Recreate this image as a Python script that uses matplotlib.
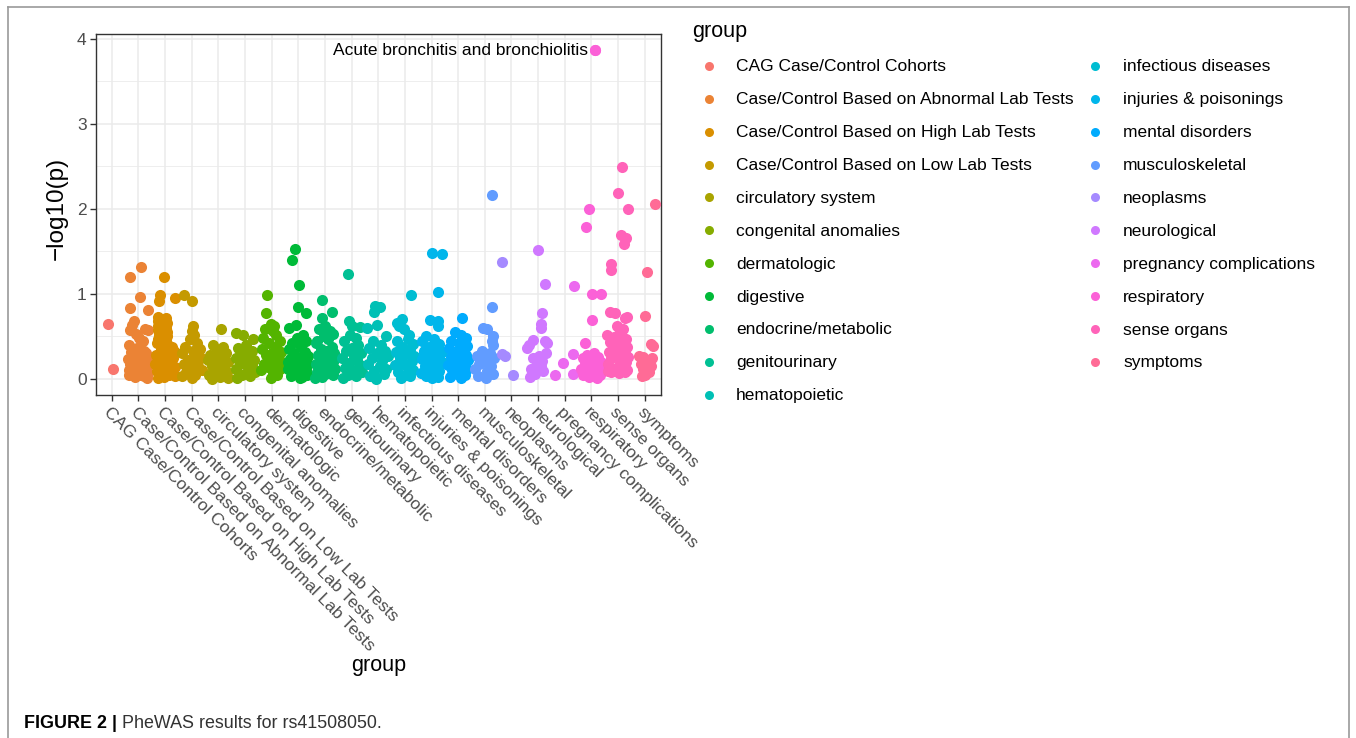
import math
import numpy as np
import matplotlib
matplotlib.use("Agg")
import matplotlib.pyplot as plt
from matplotlib.lines import Line2D

plt.rcParams['font.family'] = ['Liberation Sans', 'DejaVu Sans']

# phenotype groups (x categories / legend order)
groups = ["CAG Case/Control Cohorts", "Case/Control Based on Abnormal Lab Tests",
          "Case/Control Based on High Lab Tests", "Case/Control Based on Low Lab Tests",
          "circulatory system", "congenital anomalies", "dermatologic", "digestive",
          "endocrine/metabolic", "genitourinary", "hematopoietic", "infectious diseases",
          "injuries & poisonings", "mental disorders", "musculoskeletal", "neoplasms",
          "neurological", "pregnancy complications", "respiratory", "sense organs", "symptoms"]

# -log10(p) per group, with the horizontal jitter
y_cag = [0.65, 0.12]
jit_cag = [-0.15, 0.06]
y_abn = [1.31, 1.20, 0.96, 0.83, 0.81, 0.68, 0.63, 0.57, 0.58, 0.57, 0.53, 0.48, 0.45, 0.40,
         0.36, 0.33, 0.31, 0.30, 0.28, 0.26, 0.25, 0.23, 0.21, 0.20, 0.19, 0.17, 0.15, 0.14,
         0.12, 0.11, 0.10, 0.09, 0.08, 0.07, 0.06, 0.05, 0.04, 0.03, 0.02, 0.01]
jit_abn = [0.10, -0.33, 0.06, -0.33, 0.37, -0.18, -0.25, -0.30, 0.26, 0.38, -0.10, 0.04, 0.16,
           -0.35, -0.05, 0.20, -0.28, 0.30, 0.05, -0.15, 0.35, -0.38, 0.12, -0.05, 0.25, -0.30,
           0.02, 0.33, -0.20, 0.15, -0.36, 0.28, -0.08, 0.38, -0.25, 0.10, -0.35, 0.22, -0.12, 0.32]
y_high = [1.20, 0.99, 0.95, 0.92, 0.73, 0.72, 0.68, 0.66, 0.62, 0.60, 0.57, 0.55, 0.52, 0.50,
          0.47, 0.45, 0.42, 0.40, 0.37, 0.35, 0.33, 0.30, 0.28, 0.26, 0.24, 0.22, 0.20, 0.18,
          0.16, 0.14, 0.12, 0.10, 0.09, 0.07, 0.06, 0.04, 0.03, 0.02, 0.01]
jit_high = [-0.05, -0.19, 0.38, -0.24, -0.28, 0.04, -0.26, 0.06, -0.27, 0.05, -0.25, 0.08, -0.24,
            0.06, -0.26, 0.05, -0.30, 0.10, 0.25, -0.15, 0.35, 0.00, -0.35, 0.18, 0.30, -0.20,
            0.12, -0.38, 0.22, 0.36, -0.10, 0.05, -0.30, 0.28, -0.18, 0.15, 0.38, -0.05, -0.28]
y_low = [0.98, 0.91, 0.62, 0.56, 0.52, 0.47, 0.42, 0.38, 0.35, 0.33, 0.30, 0.27, 0.25, 0.22,
         0.20, 0.17, 0.15, 0.12, 0.10, 0.08, 0.05, 0.03, 0.01, 0.30, 0.18]
jit_low = [-0.30, 0.00, 0.04, 0.00, 0.10, -0.05, 0.20, -0.25, 0.30, 0.05, -0.35, 0.15, 0.35,
           -0.15, 0.05, -0.30, 0.25, -0.05, 0.38, -0.22, 0.12, -0.35, 0.02, 0.22, -0.10]
y_circ = [0.59, 0.40, 0.37, 0.33, 0.30, 0.28, 0.25, 0.23, 0.20, 0.18, 0.15, 0.13, 0.10, 0.08,
          0.05, 0.02, 0.00, 0.01, 0.22, 0.12]
jit_circ = [0.11, -0.19, 0.18, -0.05, 0.30, -0.30, 0.10, -0.15, 0.35, 0.00, -0.25, 0.22, -0.08,
            0.32, -0.35, 0.05, -0.22, 0.38, -0.38, 0.15]
y_cong = [0.54, 0.52, 0.47, 0.40, 0.36, 0.33, 0.30, 0.28, 0.25, 0.22, 0.20, 0.17, 0.15, 0.12,
          0.10, 0.08, 0.05, 0.03, 0.01, 0.27]
jit_cong = [-0.35, -0.06, 0.31, 0.05, -0.25, 0.28, -0.10, 0.15, -0.35, 0.35, 0.02, -0.20, 0.25,
            -0.32, 0.10, 0.38, -0.12, 0.20, -0.28, 0.00]
y_derm = [0.98, 0.77, 0.64, 0.62, 0.58, 0.56, 0.52, 0.48, 0.45, 0.42, 0.38, 0.35, 0.32, 0.30,
          0.28, 0.25, 0.22, 0.20, 0.18, 0.16, 0.14, 0.12, 0.10, 0.07, 0.04, 0.01]
jit_derm = [-0.19, -0.22, -0.03, 0.10, -0.25, 0.05, 0.18, -0.32, 0.30, -0.10, 0.15, -0.35, 0.35,
            0.00, -0.20, 0.25, -0.05, 0.38, -0.30, 0.12, -0.15, 0.30, -0.38, 0.05, 0.22, -0.02]
y_dig = [1.53, 1.40, 1.10, 0.84, 0.77, 0.63, 0.60, 0.51, 0.48, 0.45, 0.42, 0.38, 0.35, 0.32,
         0.30, 0.27, 0.25, 0.23, 0.21, 0.19, 0.17, 0.15, 0.13, 0.12, 0.10, 0.08, 0.07, 0.05,
         0.03, 0.02, 0.01, 0.20]
jit_dig = [-0.11, -0.23, 0.03, 0.00, 0.29, -0.10, -0.36, 0.16, -0.05, 0.30, -0.25, 0.10, -0.35,
           0.25, -0.15, 0.35, 0.05, -0.30, 0.20, -0.05, 0.38, -0.22, 0.12, -0.38, 0.28, 0.00,
           -0.15, 0.32, -0.28, 0.15, 0.05, -0.38]
y_endo = [0.93, 0.79, 0.72, 0.62, 0.58, 0.56, 0.53, 0.50, 0.47, 0.44, 0.42, 0.38, 0.35, 0.33,
          0.30, 0.28, 0.25, 0.22, 0.20, 0.18, 0.16, 0.14, 0.12, 0.10, 0.08, 0.06, 0.04, 0.02,
          0.01, 0.27]
jit_endo = [-0.12, 0.28, -0.12, 0.00, -0.22, 0.18, 0.30, -0.05, 0.12, -0.30, -0.34, 0.25, -0.15,
            0.05, 0.35, -0.25, 0.15, -0.05, 0.30, -0.35, 0.08, -0.18, 0.38, 0.20, -0.28, 0.00,
            0.32, -0.10, -0.38, 0.38]
y_geni = [1.23, 0.68, 0.62, 0.61, 0.51, 0.48, 0.44, 0.40, 0.36, 0.33, 0.30, 0.27, 0.24, 0.22,
          0.19, 0.16, 0.13, 0.10, 0.08, 0.05, 0.03, 0.01]
jit_geni = [-0.13, -0.11, 0.01, 0.31, -0.05, 0.15, -0.30, 0.25, 0.00, -0.20, 0.35, 0.10, -0.35,
            0.20, -0.10, 0.30, -0.25, 0.05, 0.38, -0.15, 0.18, -0.32]
y_hema = [0.86, 0.85, 0.78, 0.63, 0.60, 0.50, 0.45, 0.40, 0.36, 0.33, 0.30, 0.27, 0.24, 0.21,
          0.18, 0.15, 0.12, 0.09, 0.06, 0.03, 0.00]
jit_hema = [-0.11, 0.05, -0.15, -0.05, -0.41, 0.30, -0.20, 0.10, -0.35, 0.25, -0.05, 0.38, -0.25,
            0.15, -0.38, 0.05, 0.30, -0.15, 0.20, -0.30, -0.10]
y_infe = [0.98, 0.70, 0.66, 0.62, 0.58, 0.52, 0.47, 0.44, 0.41, 0.38, 0.35, 0.32, 0.29, 0.27,
          0.24, 0.21, 0.18, 0.16, 0.13, 0.10, 0.08, 0.05, 0.03, 0.01]
jit_infe = [0.24, -0.10, -0.30, -0.22, -0.05, 0.15, 0.10, -0.30, 0.30, -0.12, 0.20, -0.35, 0.05,
            0.35, -0.20, 0.25, -0.05, -0.38, 0.12, 0.32, -0.25, 0.00, 0.20, -0.15]
y_inj = [1.48, 1.47, 1.02, 0.69, 0.68, 0.62, 0.50, 0.47, 0.44, 0.41, 0.38, 0.36, 0.33, 0.31,
         0.29, 0.27, 0.25, 0.23, 0.21, 0.19, 0.17, 0.15, 0.13, 0.11, 0.09, 0.07, 0.05, 0.03,
         0.02, 0.01, 0.30, 0.20]
jit_inj = [0.00, 0.38, 0.25, -0.05, 0.25, 0.25, -0.20, 0.10, -0.35, 0.30, -0.08, 0.20, -0.28,
           0.38, 0.05, -0.15, 0.28, -0.35, 0.12, -0.02, 0.35, -0.25, 0.18, -0.10, 0.30, -0.38,
           0.08, -0.20, 0.25, 0.00, -0.30, 0.38]
y_ment = [0.72, 0.55, 0.52, 0.48, 0.45, 0.42, 0.39, 0.36, 0.33, 0.31, 0.28, 0.26, 0.24, 0.22,
          0.20, 0.18, 0.16, 0.14, 0.12, 0.10, 0.08, 0.06, 0.04, 0.02, 0.01, 0.30]
jit_ment = [0.14, -0.10, 0.12, 0.30, -0.25, 0.05, 0.35, -0.35, 0.18, -0.10, 0.28, -0.28, 0.05,
            0.38, -0.18, 0.22, -0.38, 0.00, 0.32, -0.22, 0.12, -0.05, 0.25, -0.30, 0.10, -0.02]
y_musc = [2.16, 0.84, 0.60, 0.59, 0.50, 0.44, 0.40, 0.33, 0.30, 0.27, 0.24, 0.21, 0.18, 0.15,
          0.12, 0.09, 0.06, 0.03, 0.01, 0.25]
jit_musc = [0.26, 0.28, -0.05, 0.08, 0.31, 0.28, 0.30, -0.10, 0.20, -0.30, 0.35, 0.00, -0.20,
            0.25, -0.35, 0.10, 0.30, -0.25, 0.05, -0.02]
y_neop = [1.37, 0.29, 0.27, 0.05]
jit_neop = [-0.37, -0.36, -0.25, 0.06]
y_neur = [1.51, 1.11, 0.77, 0.65, 0.60, 0.46, 0.44, 0.42, 0.40, 0.36, 0.30, 0.27, 0.24, 0.21,
          0.18, 0.15, 0.12, 0.09, 0.06, 0.02]
jit_neur = [0.00, 0.24, 0.16, 0.10, 0.12, -0.21, 0.25, 0.35, -0.35, -0.40, 0.28, 0.05, -0.18,
            0.15, -0.05, 0.10, -0.25, 0.20, -0.12, -0.30]
y_preg = [1.09, 0.29, 0.19, 0.06, 0.04]
jit_preg = [0.33, 0.32, -0.06, 0.30, -0.36]
y_resp = [3.86, 2.00, 1.79, 1.00, 1.00, 0.69, 0.42, 0.30, 0.28, 0.26, 0.24, 0.22, 0.20, 0.18,
          0.17, 0.15, 0.14, 0.12, 0.11, 0.10, 0.09, 0.08, 0.07, 0.06, 0.05, 0.04, 0.03, 0.02,
          0.01, 0.12, 0.20, 0.25]
jit_resp = [0.15, -0.10, -0.21, 0.02, 0.37, 0.03, -0.24, 0.10, -0.15, 0.25, -0.30, 0.05, 0.35,
            -0.05, -0.25, 0.20, 0.38, -0.12, 0.12, -0.35, 0.28, 0.00, -0.20, 0.15, 0.32, -0.30,
            0.08, -0.10, 0.22, -0.38, 0.30, -0.02]
y_sens = [2.49, 2.18, 2.00, 1.69, 1.66, 1.59, 1.35, 1.28, 0.78, 0.77, 0.73, 0.72, 0.62, 0.58,
          0.53, 0.51, 0.49, 0.47, 0.45, 0.43, 0.40, 0.38, 0.36, 0.34, 0.32, 0.30, 0.28, 0.26,
          0.24, 0.22, 0.20, 0.18, 0.16, 0.14, 0.12, 0.10, 0.08, 0.07, 0.08, 0.09]
jit_sens = [0.13, -0.02, 0.39, 0.10, 0.29, 0.24, -0.25, -0.25, -0.31, -0.12, 0.32, 0.27, -0.05,
            0.20, 0.05, -0.41, -0.15, 0.30, 0.10, -0.30, 0.00, 0.35, -0.20, 0.15, -0.35, 0.25,
            -0.08, 0.38, -0.25, 0.12, 0.30, -0.38, 0.02, 0.22, -0.15, 0.35, -0.28, 0.05, 0.25, -0.38]
y_symp = [2.05, 1.25, 0.74, 0.41, 0.39, 0.27, 0.26, 0.24, 0.21, 0.18, 0.15, 0.12, 0.08, 0.05, 0.03]
jit_symp = [0.37, 0.09, 0.00, 0.25, 0.32, -0.21, -0.05, 0.28, 0.10, -0.15, 0.22, -0.05, 0.15,
            0.00, -0.10]

group_y = [y_cag, y_abn, y_high, y_low, y_circ, y_cong, y_derm, y_dig, y_endo, y_geni, y_hema,
           y_infe, y_inj, y_ment, y_musc, y_neop, y_neur, y_preg, y_resp, y_sens, y_symp]
group_jit = [jit_cag, jit_abn, jit_high, jit_low, jit_circ, jit_cong, jit_derm, jit_dig, jit_endo,
             jit_geni, jit_hema, jit_infe, jit_inj, jit_ment, jit_musc, jit_neop, jit_neur,
             jit_preg, jit_resp, jit_sens, jit_symp]

# labelled top hit (respiratory)
top_label = "Acute bronchitis and bronchiolitis"
top_group = "respiratory"
top_jit = 0.15
top_y = 3.86


def hcl_color(h, c=100.0, l=65.0):
    # ggplot2 default hue palette (polar LUV -> sRGB)
    xn, yn, zn = 95.047, 100.0, 108.883
    u = c * math.cos(math.radians(h))
    v = c * math.sin(math.radians(h))
    Y = yn * ((l + 16) / 116) ** 3
    un = 4 * xn / (xn + 15 * yn + 3 * zn)
    vn = 9 * yn / (xn + 15 * yn + 3 * zn)
    up = u / (13 * l) + un
    vp = v / (13 * l) + vn
    X = 9 * Y * up / (4 * vp)
    Z = 3 * Y / vp - X / 3 - 5 * Y
    X, Y, Z = X / 100, Y / 100, Z / 100
    rgb = [3.240479 * X - 1.537150 * Y - 0.498535 * Z,
           -0.969256 * X + 1.875992 * Y + 0.041556 * Z,
           0.055648 * X - 0.204043 * Y + 1.057311 * Z]
    out = []
    for ch in rgb:
        ch = 12.92 * ch if ch <= 0.0031308 else 1.055 * ch ** (1 / 2.4) - 0.055
        out.append(min(max(ch, 0.0), 1.0))
    return tuple(out)


hues = np.linspace(15, 375, len(groups) + 1)[:-1]
colors = [hcl_color(h) for h in hues]

W, H = 1356, 738
fig = plt.figure(figsize=(W / 100, H / 100), dpi=100)


def fx(px):
    return px / W


def fy(py):
    return 1 - py / H


ax = fig.add_axes([fx(95.7), fy(395), (660.7 - 95.7) / W, (395 - 34.3) / H])

pt_size = 64
for i, (ys, js) in enumerate(zip(group_y, group_jit)):
    xs = [i + 1 + j for j in js]
    ax.scatter(xs, ys, s=pt_size, color=colors[i], linewidths=0, zorder=3)

ti = groups.index(top_group)
ax.scatter([ti + 1 + top_jit], [top_y], s=pt_size, color=colors[ti], linewidths=0, zorder=3)
ax.annotate(top_label, xy=(ti + 1 + top_jit, top_y), xytext=(-5.5, 0), textcoords='offset points',
            ha='right', va='center', fontsize=12.5, color='black')

ax.set_xlim(0.4, len(groups) + 0.6)
ax.set_ylim(-0.19, 4.05)
ax.set_xticks(range(1, len(groups) + 1))
ax.set_xticklabels(groups, rotation=-45, ha='left', va='top', rotation_mode='anchor')
ax.set_yticks([0, 1, 2, 3, 4])
ax.set_yticks([0.5, 1.5, 2.5, 3.5], minor=True)
ax.grid(True, which='major', color='#EBEBEB', linewidth=1.1, zorder=0)
ax.grid(True, which='minor', axis='y', color='#EBEBEB', linewidth=0.6, zorder=0)
ax.set_axisbelow(True)
ax.tick_params(axis='both', which='major', length=4, width=1, color='#333333',
               labelcolor='#4D4D4D', labelsize=12.5, pad=2.5)
ax.tick_params(axis='y', which='minor', length=0)
for sp in ax.spines.values():
    sp.set_color('#333333')
    sp.set_linewidth(1.0)

fig.text(fx(57), fy(208), "\u2212log10(p)", fontsize=17.5, rotation=90, ha='center', va='center')
fig.text(fx(378.2), fy(665), "group", fontsize=15.5, ha='center', va='center')

# legend drawn by hand in two columns
fig.text(fx(692), fy(31), "group", fontsize=15.5, ha='left', va='center')
for i, name in enumerate(groups):
    col, row = divmod(i, 11)
    dot_x = 709 if col == 0 else 1095
    txt_x = 736 if col == 0 else 1123
    yy = 65.8 + 32.9 * row
    fig.add_artist(Line2D([fx(dot_x)], [fy(yy)], marker='o', markersize=6.5, color=colors[i],
                          markeredgewidth=0, linestyle='none', transform=fig.transFigure))
    fig.text(fx(txt_x), fy(yy + 1), name, fontsize=12.5, ha='left', va='center', color='black')

# outer frame and caption
frame = dict(color='#9A9A9A', linewidth=1.2, transform=fig.transFigure)
fig.add_artist(Line2D([fx(8), fx(8)], [fy(738), fy(7)], **frame))
fig.add_artist(Line2D([fx(8), fx(1349)], [fy(7), fy(7)], **frame))
fig.add_artist(Line2D([fx(1349), fx(1349)], [fy(7), fy(738)], **frame))

cap = fig.text(fx(24), fy(724), "FIGURE 2 |", fontsize=12.9, fontweight='bold', ha='left',
               va='center', color='black')
ax.annotate("PheWAS results for rs41508050.", xy=(1, 0.5), xycoords=cap, xytext=(3.5, 0),
            textcoords='offset points', ha='left', va='center', fontsize=12.9, color='#333333',
            annotation_clip=False)

fig.savefig("out.png", dpi=100)
